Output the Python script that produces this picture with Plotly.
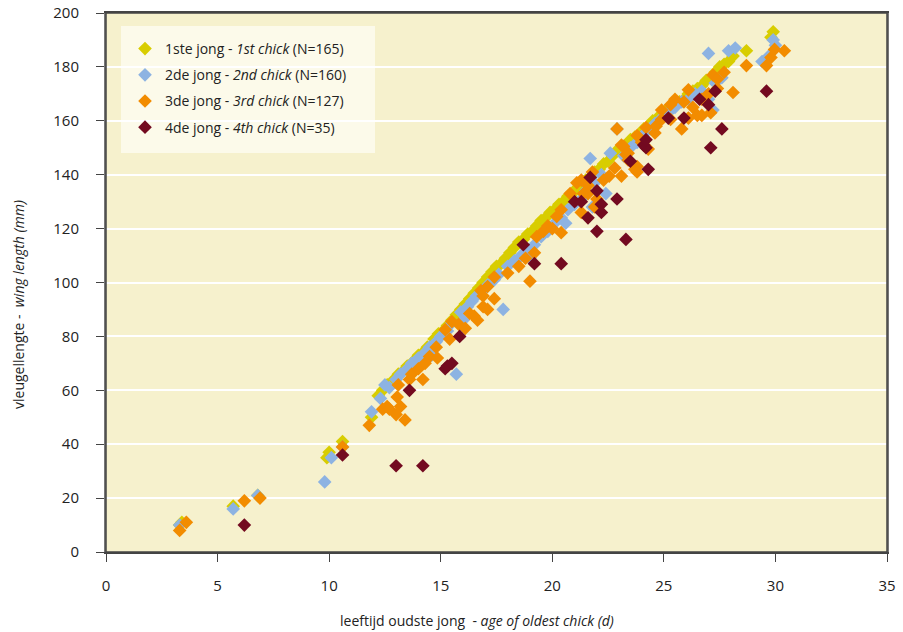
import plotly.graph_objects as go

# ---------------- data ----------------
names = ["1ste jong - <i>1st chick</i> (N=165)",
         "2de jong - <i>2nd chick</i> (N=160)",
         "3de jong - <i>3rd chick</i> (N=127)",
         "4de jong - <i>4th chick</i> (N=35)"]
colors = ["#d8cd00", "#8db3e2", "#f28c00", "#730a20"]

x1 = [3.3, 3.4, 5.7, 6.8, 9.9, 10.0, 10.6, 11.9, 12.2, 12.4, 12.6, 12.9, 13.1, 13.3, 13.5, 13.8,
      14.0, 14.2, 14.4, 14.7, 14.9, 15.1, 15.3, 15.5, 15.7, 15.9, 16.1, 16.3, 16.5, 16.7, 16.9,
      17.1, 17.3, 17.5, 17.7, 17.9, 18.1, 18.3, 18.5, 18.7, 18.9, 19.1, 19.3, 19.5, 19.7, 19.9,
      20.1, 20.3, 20.5, 20.7, 20.9, 21.1, 21.3, 21.5, 21.7, 21.9, 22.1, 22.3, 22.5, 22.7, 22.9,
      23.1, 23.3, 23.5, 23.7, 23.9, 24.1, 24.3, 24.5, 24.7, 24.9, 25.1, 25.3, 25.5, 25.7, 25.9,
      26.1, 26.3, 26.5, 26.7, 26.9, 27.1, 27.3, 27.5, 27.7, 27.9, 28.1, 28.7, 29.8, 29.9]
y1 = [10, 11, 17, 21, 35, 37, 41, 50, 58, 60, 62, 64, 66, 67, 69, 71,
      73, 74, 76, 79, 81, 82, 84, 86, 88, 90, 92, 94, 96, 98, 100,
      102, 104, 106, 107, 109, 111, 113, 115, 116, 118, 119, 121, 123, 124, 126,
      127, 129, 130, 132, 133, 135, 136, 138, 139, 141, 142, 144, 145, 147, 149,
      150, 151, 153, 154, 155, 157, 158, 160, 161, 162, 164, 165, 166, 167, 168,
      170, 171, 172, 173, 175, 176, 178, 180, 181, 182, 184, 186, 191, 193]

x2 = [3.3, 5.7, 6.8, 9.8, 10.1, 10.6, 11.9, 12.3, 12.5, 12.7, 13.0, 13.2, 13.5, 13.7, 14.0,
      14.3, 14.5, 14.8, 15.0, 15.3, 15.5, 15.7, 15.9, 16.2, 16.4, 16.6, 16.9, 17.1, 17.4, 17.6,
      17.8, 18.0, 18.3, 18.6, 18.9, 19.2, 19.5, 19.8, 20.1, 20.4, 20.7, 21.0, 21.3, 21.5, 21.7,
      21.9, 22.2, 22.6, 22.9, 23.2, 23.5, 23.8, 24.1, 24.4, 24.6, 24.9, 25.2, 25.5, 25.8, 26.1,
      26.4, 26.7, 27.0, 27.0, 27.2, 27.3, 27.6, 27.9, 28.2, 29.4, 29.7, 29.9, 30.0, 21.8, 22.4,
      20.6, 19.0, 16.0, 14.6]
y2 = [10, 16, 21, 26, 35, 39, 52, 57, 62, 61, 64, 66, 68, 70, 72,
      74, 76, 78, 80, 82, 85, 66, 89, 91, 93, 95, 97, 99, 101, 103,
      90, 106, 108, 110, 112, 114, 117, 119, 122, 124, 127, 129, 131, 134, 146,
      137, 140, 148, 157, 147, 150, 152, 155, 157, 159, 161, 163, 165, 167, 168,
      170, 171, 185, 168, 164, 174, 176, 186, 187, 182, 184, 190, 188, 128, 133,
      122, 109, 86, 73]

x3 = [3.3, 3.6, 6.2, 6.9, 10.6, 11.8, 12.4, 12.6, 12.7, 13.0, 13.4, 13.2, 13.05, 13.1, 13.6,
      13.7, 14.0, 14.2, 14.3, 14.5, 14.8, 14.85, 15.2, 15.4, 15.5, 15.8, 16.1, 16.3, 16.5, 16.65,
      16.9, 17.1, 16.8, 17.1, 17.4, 16.9, 17.4, 18.0, 18.5, 18.8, 19.0, 19.2, 19.3, 19.6, 19.8,
      20.0, 20.2, 20.4, 20.4, 20.8, 21.1, 21.3, 21.3, 21.4, 21.6, 21.6, 21.8, 21.9, 22.0, 22.3,
      22.55, 22.8, 22.9, 23.1, 23.1, 23.2, 23.3, 23.4, 23.4, 23.7, 23.8, 23.8, 23.8, 24.0, 24.2,
      24.3, 24.6, 24.65, 24.9, 24.9, 25.3, 25.3, 25.5, 25.8, 25.9, 26.1, 26.1, 26.3, 26.5, 26.7,
      26.7, 27.0, 27.1, 27.2, 27.4, 27.4, 27.7, 28.1, 28.7, 29.6, 29.8, 29.96, 30.4]
y3 = [8, 11, 19, 20, 39, 47, 53, 54, 53, 51, 49, 54, 57.5, 62, 64,
      66, 68, 64, 70, 72.5, 76, 72, 82.5, 79, 85.5, 84.5, 83, 88.5, 87.5, 86,
      91, 90, 97, 98.5, 94, 95, 102, 103.5, 106, 109, 100.5, 111, 117, 119, 121,
      120, 124.5, 118.5, 127, 133, 137, 138, 126, 133, 133, 136, 141, 128, 131, 138,
      139.5, 142.5, 157, 139.5, 151, 150.5, 147.5, 148, 145.5, 142, 143, 154.5, 141, 152, 157.5,
      149.5, 155.5, 158, 160.5, 164, 166, 160.5, 168, 157, 167, 161, 171.5, 165, 162, 168,
      162, 170, 163, 177, 172, 175.5, 178, 170.5, 180.5, 180.5, 183.5, 186.5, 186]

x4 = [6.2, 10.6, 13.0, 14.2, 13.6, 15.2, 15.3, 15.5, 15.85, 18.7, 19.2, 20.4, 21.0, 21.3, 21.6,
      21.7, 22.0, 22.0, 22.2, 22.2, 22.9, 23.3, 23.5, 24.1, 24.2, 24.2, 24.3, 25.2, 25.9, 26.6,
      27.0, 27.1, 27.3, 27.6, 29.6]
y4 = [10, 36, 32, 32, 60, 68, 69, 70, 80, 114, 107, 107, 130, 130, 124,
      139, 134, 119, 129, 126, 131, 116, 145, 151, 150, 153, 142, 161, 161, 168,
      166, 150, 171, 157, 171]

xs = [x1, x2, x3, x4]
ys = [y1, y2, y3, y4]

x_ticks = [0, 5, 10, 15, 20, 25, 30, 35]
y_ticks = [0, 20, 40, 60, 80, 100, 120, 140, 160, 180, 200]

x_title = "leeftijd oudste jong  - <i>age of oldest chick (d)</i>"
y_title = "vleugellengte -  <i>wing length (mm)</i>"

# ---------------- figure ----------------
FONT = "Open Sans"

fig = go.Figure()
for i in range(4):
    fig.add_trace(go.Scatter(
        x=xs[i], y=ys[i], mode="markers", name=names[i], legendgroup=f"g{i}",
        marker=dict(symbol="diamond", size=10.5, color=colors[i], line=dict(width=0)),
    ))

W, H = 903, 632
# plot area in window pixels: left 106, right 887, top 13, bottom 552
L, T = 106, 13
R = W - 887
B = H - 552
pw, ph = W - L - R, H - T - B


def px_x(p):
    return (p - L) / pw


def px_y(p):
    return 1 - (p - T) / ph


fig.update_layout(
    width=W, height=H,
    margin=dict(l=L, r=R, t=T, b=B, autoexpand=False),
    paper_bgcolor="white",
    plot_bgcolor="#f6f1cd",
    font=dict(family=FONT, color="#222", size=14),
    showlegend=True,
    legend=dict(
        x=px_x(125), y=px_y(33), xanchor="left", yanchor="top",
        bgcolor="rgba(0,0,0,0)", borderwidth=0,
        font=dict(family=FONT, size=14, color="#222"),
        tracegroupgap=5,
    ),
    shapes=[
        dict(type="rect", xref="paper", yref="paper", layer="between",
             x0=px_x(121), x1=px_x(375), y0=px_y(153), y1=px_y(26),
             fillcolor="#fcfaea", line=dict(width=0)),
        # frame around the plotting area
        dict(type="rect", xref="paper", yref="paper", layer="above",
             x0=0, x1=1, y0=0, y1=1, fillcolor="rgba(0,0,0,0)",
             line=dict(color="#444", width=1.5)),
    ],
    annotations=[
        dict(text=x_title, xref="paper", yref="paper", x=px_x(477), y=px_y(620),
             xanchor="center", yanchor="middle", showarrow=False,
             font=dict(family=FONT, size=14, color="#222")),
        dict(text=y_title, xref="paper", yref="paper", x=px_x(18), y=px_y(305),
             xanchor="center", yanchor="middle", showarrow=False, textangle=-90,
             font=dict(family=FONT, size=14, color="#222")),
    ],
)
fig.update_xaxes(
    range=[0, 35], tickvals=x_ticks, showgrid=False, zeroline=False, automargin=False,
    showline=True, linecolor="#444", linewidth=1.5, mirror=True,
    ticks="outside", ticklen=8, tickcolor="#444", tickwidth=1,
    ticklabelstandoff=11, ticklabeloverflow="allow",
    tickfont=dict(family=FONT, size=15, color="#222"),
)
fig.update_yaxes(
    range=[0, 200], tickvals=y_ticks, showgrid=True, gridcolor="white", gridwidth=2,
    zeroline=False, automargin=False, showline=True, linecolor="#777", linewidth=2, mirror=True,
    ticks="outside", ticklen=8, tickcolor="#444", tickwidth=1,
    ticklabelstandoff=14, ticklabeloverflow="allow",
    tickfont=dict(family=FONT, size=15, color="#222"),
)

# remove the browser's default 8px page margin so the figure fills the window exactly
fig.write_html("out.html", config={"displayModeBar": False},
               post_script="document.body.style.margin='0px';")
